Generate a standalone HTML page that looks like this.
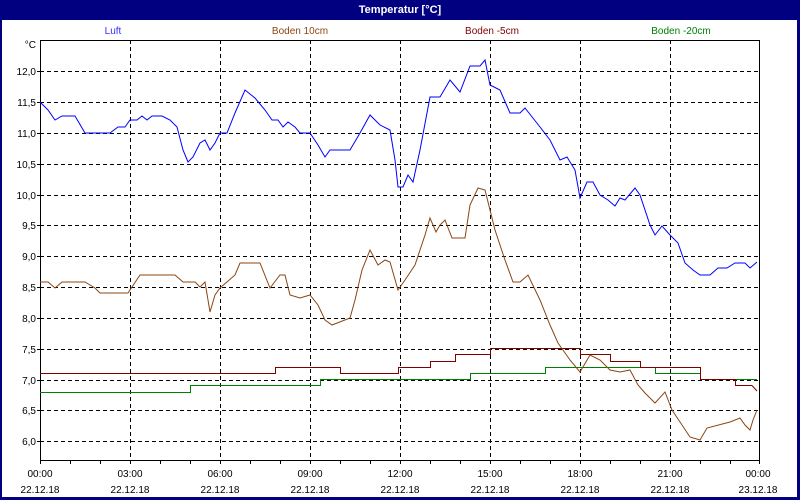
<!DOCTYPE html>
<html><head><meta charset="utf-8"><style>
html,body{margin:0;padding:0;background:#fff}
svg{display:block}
text{font-family:"Liberation Sans",sans-serif;font-size:10px}
</style></head><body>
<svg width="800" height="500" xmlns="http://www.w3.org/2000/svg">
<rect x="0" y="0" width="800" height="500" fill="#000080"/>
<rect x="2" y="20" width="795" height="477" fill="#fff"/>
<text x="400" y="13" fill="#fff" text-anchor="middle" font-weight="bold" style="font-size:11px">Temperatur [°C]</text>
<text x="113" y="34" fill="#3030ff" text-anchor="middle">Luft</text>
<text x="300" y="34" fill="#8b4513" text-anchor="middle">Boden 10cm</text>
<text x="492" y="34" fill="#800000" text-anchor="middle">Boden -5cm</text>
<text x="681" y="34" fill="#008000" text-anchor="middle">Boden -20cm</text>
<g stroke="#000" stroke-width="1" stroke-dasharray="4,3" shape-rendering="crispEdges">
<line x1="130.5" y1="40" x2="130.5" y2="460"/><line x1="220.5" y1="40" x2="220.5" y2="460"/><line x1="310.5" y1="40" x2="310.5" y2="460"/><line x1="400.5" y1="40" x2="400.5" y2="460"/><line x1="490.5" y1="40" x2="490.5" y2="460"/><line x1="580.5" y1="40" x2="580.5" y2="460"/><line x1="670.5" y1="40" x2="670.5" y2="460"/>
<line x1="40" y1="71.5" x2="760" y2="71.5"/><line x1="40" y1="102.5" x2="760" y2="102.5"/><line x1="40" y1="133.5" x2="760" y2="133.5"/><line x1="40" y1="164.5" x2="760" y2="164.5"/><line x1="40" y1="195.5" x2="760" y2="195.5"/><line x1="40" y1="225.5" x2="760" y2="225.5"/><line x1="40" y1="256.5" x2="760" y2="256.5"/><line x1="40" y1="287.5" x2="760" y2="287.5"/><line x1="40" y1="318.5" x2="760" y2="318.5"/><line x1="40" y1="349.5" x2="760" y2="349.5"/><line x1="40" y1="380.5" x2="760" y2="380.5"/><line x1="40" y1="410.5" x2="760" y2="410.5"/><line x1="40" y1="441.5" x2="760" y2="441.5"/>
</g>
<rect x="40.5" y="40.5" width="719" height="420" fill="none" stroke="#000" shape-rendering="crispEdges"/>
<g stroke="#000" shape-rendering="crispEdges">
<path d="M40.5 460v4M70.5 460v4M100.5 460v4M130.5 460v4M160.5 460v4M190.5 460v4M220.5 460v4M250.5 460v4M280.5 460v4M310.5 460v4M340.5 460v4M370.5 460v4M400.5 460v4M430.5 460v4M460.5 460v4M490.5 460v4M520.5 460v4M550.5 460v4M580.5 460v4M610.5 460v4M640.5 460v4M670.5 460v4M700.5 460v4M730.5 460v4M759.5 460v4"/>
<path d="M37 71.5h3M37 102.5h3M37 133.5h3M37 164.5h3M37 195.5h3M37 225.5h3M37 256.5h3M37 287.5h3M37 318.5h3M37 349.5h3M37 380.5h3M37 410.5h3M37 441.5h3"/>
</g>
<g text-anchor="end" fill="#000">
<text x="36" y="48">°C</text>
<text x="36" y="75">12,0</text><text x="36" y="106">11,5</text><text x="36" y="137">11,0</text><text x="36" y="168">10,5</text><text x="36" y="199">10,0</text><text x="36" y="229">9,5</text><text x="36" y="260">9,0</text><text x="36" y="291">8,5</text><text x="36" y="322">8,0</text><text x="36" y="353">7,5</text><text x="36" y="384">7,0</text><text x="36" y="414">6,5</text><text x="36" y="445">6,0</text>
</g>
<g text-anchor="middle" fill="#000">
<text x="40" y="477">00:00</text><text x="130" y="477">03:00</text><text x="220" y="477">06:00</text><text x="310" y="477">09:00</text><text x="400" y="477">12:00</text><text x="490" y="477">15:00</text><text x="580" y="477">18:00</text><text x="670" y="477">21:00</text><text x="758" y="477">00:00</text>
<text x="40" y="493">22.12.18</text><text x="130" y="493">22.12.18</text><text x="220" y="493">22.12.18</text><text x="310" y="493">22.12.18</text><text x="400" y="493">22.12.18</text><text x="490" y="493">22.12.18</text><text x="580" y="493">22.12.18</text><text x="670" y="493">22.12.18</text><text x="758" y="493">23.12.18</text>
</g>
<g fill="none" stroke-width="1">
<g shape-rendering="crispEdges">
<polyline stroke="#008000" points="40,392.5 190.5,392.5 190.5,385.5 320.5,385.5 320.5,379.5 470.5,379.5 470.5,373.5 545.5,373.5 545.5,367.5 655.5,367.5 655.5,373.5 700.5,373.5 700.5,379.5 757,379.5"/>
<polyline stroke="#800000" points="40,373.5 275.5,373.5 275.5,367.5 340.5,367.5 340.5,373.5 398.5,373.5 398.5,367.5 430.5,367.5 430.5,361.5 455.5,361.5 455.5,354.5 490.5,354.5 490.5,348.5 580.5,348.5 580.5,354.5 610.5,354.5 610.5,361.5 640.5,361.5 640.5,367.5 700.5,367.5 700.5,379.5 735.5,379.5 735.5,385.5 752,385.5"/>
</g>
<polyline stroke="#800000" points="752,385.5 757,391"/>
<polyline stroke="#8b4513" points="40,282 48,282 55,288 62,282 85,282 95,288 100,293 128,293 140,275 175,275 183,282 195,282 200,287 205,282 210,312 215,295 220,288 235,275 240,263 260,263 270,288 280,275 285,275 290,295 300,298 310,295 318,305 325,320 332,325 350,318 355,300 362,270 370,250 378,265 385,260 390,262 398,290 405,280 415,265 425,235 430,218 436,232 440,225 445,220 452,238 465,238 470,205 478,188 485,190 490,210 495,230 505,260 513,282 520,282 528,275 540,300 550,325 558,343 570,360 580,372 590,355 600,360 610,370 620,372 630,370 638,385 645,393 655,403 665,392 672,410 680,422 690,437 700,440 707,428 730,422 740,418 745,425 750,430 753,420 757,410"/>
<polyline stroke="#0000ff" points="40,102 48,110 55,120 62,116 75,116 85,133 110,133 118,127 125,127 130,120 137,120 142,116 147,120 152,116 162,116 170,120 177,127 183,150 188,162 193,157 200,143 205,140 210,150 215,143 220,133 227,133 235,113 245,90 255,98 265,110 272,120 278,120 283,127 288,122 295,127 300,133 310,133 318,145 325,157 330,150 350,150 360,133 370,115 380,125 390,130 395,160 398,187 403,187 408,175 413,182 420,150 430,97 440,97 450,80 460,92 470,66 480,66 485,60 490,85 500,90 510,113 520,113 525,108 540,127 550,140 560,160 567,157 575,170 580,198 587,182 593,182 600,195 608,200 615,206 620,198 625,200 635,188 640,195 650,225 655,235 662,226 670,235 678,243 685,263 693,270 700,275 710,275 718,268 727,268 735,263 745,263 750,268 757,262"/>
</g>
</svg>
</body></html>
